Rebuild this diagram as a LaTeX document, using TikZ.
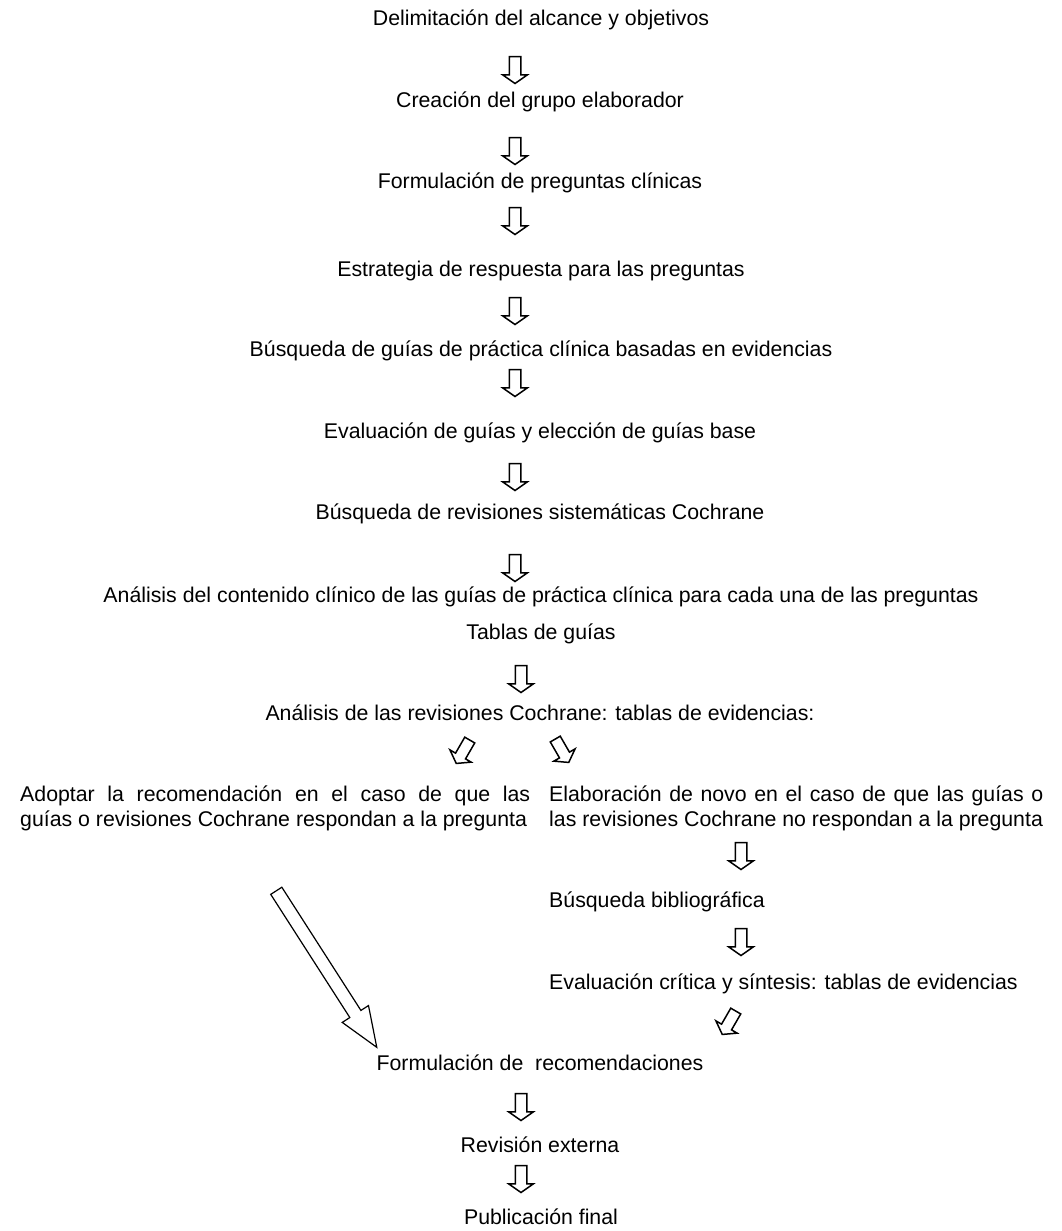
\documentclass[tikz,border=0pt]{standalone}
\usepackage{fontspec}
\setmainfont{Liberation Sans}
\usetikzlibrary{shapes.arrows}

\tikzset{
  paso/.style={inner sep=0pt, anchor=base, font=\fontsize{21.3}{25}\selectfont},
  parrafo/.style={paso, anchor=base west, text width=510pt, align=justify},
  flecha/.style={single arrow, draw=black, line width=1.5pt, fill=white,
    inner sep=5pt, minimum height=27pt,
    single arrow head extend=6.5pt, single arrow tip angle=110},
  flechagrande/.style={single arrow, draw=black, line width=1.2pt, fill=white,
    inner sep=6pt, single arrow head extend=9pt, single arrow tip angle=43}
}

\begin{document}
\begin{tikzpicture}[x=1pt,y=-1pt]
  \useasboundingbox (0,0) rectangle (1061,1231);

  \node[paso] (alcance) at (541,26) {Delimitación del alcance y objetivos};
  \node[paso] (grupo) at (540,107) {Creación del grupo elaborador};
  \node[paso] (preguntas) at (540,188) {Formulación de preguntas clínicas};
  \node[paso] (estrategia) at (541,276) {Estrategia de respuesta para las preguntas};
  \node[paso] (busqguias) at (541,356) {Búsqueda de guías de práctica clínica basadas en evidencias};
  \node[paso] (evalguias) at (540,438) {Evaluación de guías y elección de guías base};
  \node[paso] (busqrev) at (540,519) {Búsqueda de revisiones sistemáticas Cochrane};
  \node[paso] (analisis) at (541,602) {Análisis del contenido clínico de las guías de práctica clínica para cada una de las preguntas};
  \node[paso] (tablas) at (541,639) {Tablas de guías};
  \node[paso] (analrev) at (540,720) {Análisis de las revisiones Cochrane: tablas de evidencias:};
  \node[parrafo] (adoptar) at (20,801) {Adoptar la recomendación en el caso de que las\linebreak guías o revisiones Cochrane respondan a la pregunta};
  \node[parrafo, text width=494pt] (novo) at (549,801) {Elaboración de novo en el caso de que las guías o\linebreak las revisiones Cochrane no respondan a la pregunta};
  \node[paso, anchor=base west] (bibl) at (549,907) {Búsqueda bibliográfica};
  \node[paso, anchor=base west] (critica) at (549,989) {Evaluación crítica y síntesis: tablas de evidencias};
  \node[paso] (recom) at (540,1070) {Formulación de\ \ recomendaciones};
  \node[paso] (externa) at (540,1152) {Revisión externa};
  \node[paso] (final) at (541,1224) {Publicación final};

  % flechas entre pasos
  \foreach \x/\y in {515/68, 515/149, 515/219, 515/309, 515/381, 515/475,
                     515/566, 521/677, 741/854, 741/940, 521/1105, 521/1177}
    \node[flecha, rotate=-90] at (\x,\y) {};

  \node[flecha, rotate=-120] (izq) at (464,750) {};
  \node[flecha, rotate=-60] (der) at (561,749) {};
  \node[flecha, rotate=-120] (sintesis) at (730,1021) {};
  \node[flechagrande, rotate=-57.3, minimum height=186pt] (adopcion) at (322,962) {};

\end{tikzpicture}
\end{document}
